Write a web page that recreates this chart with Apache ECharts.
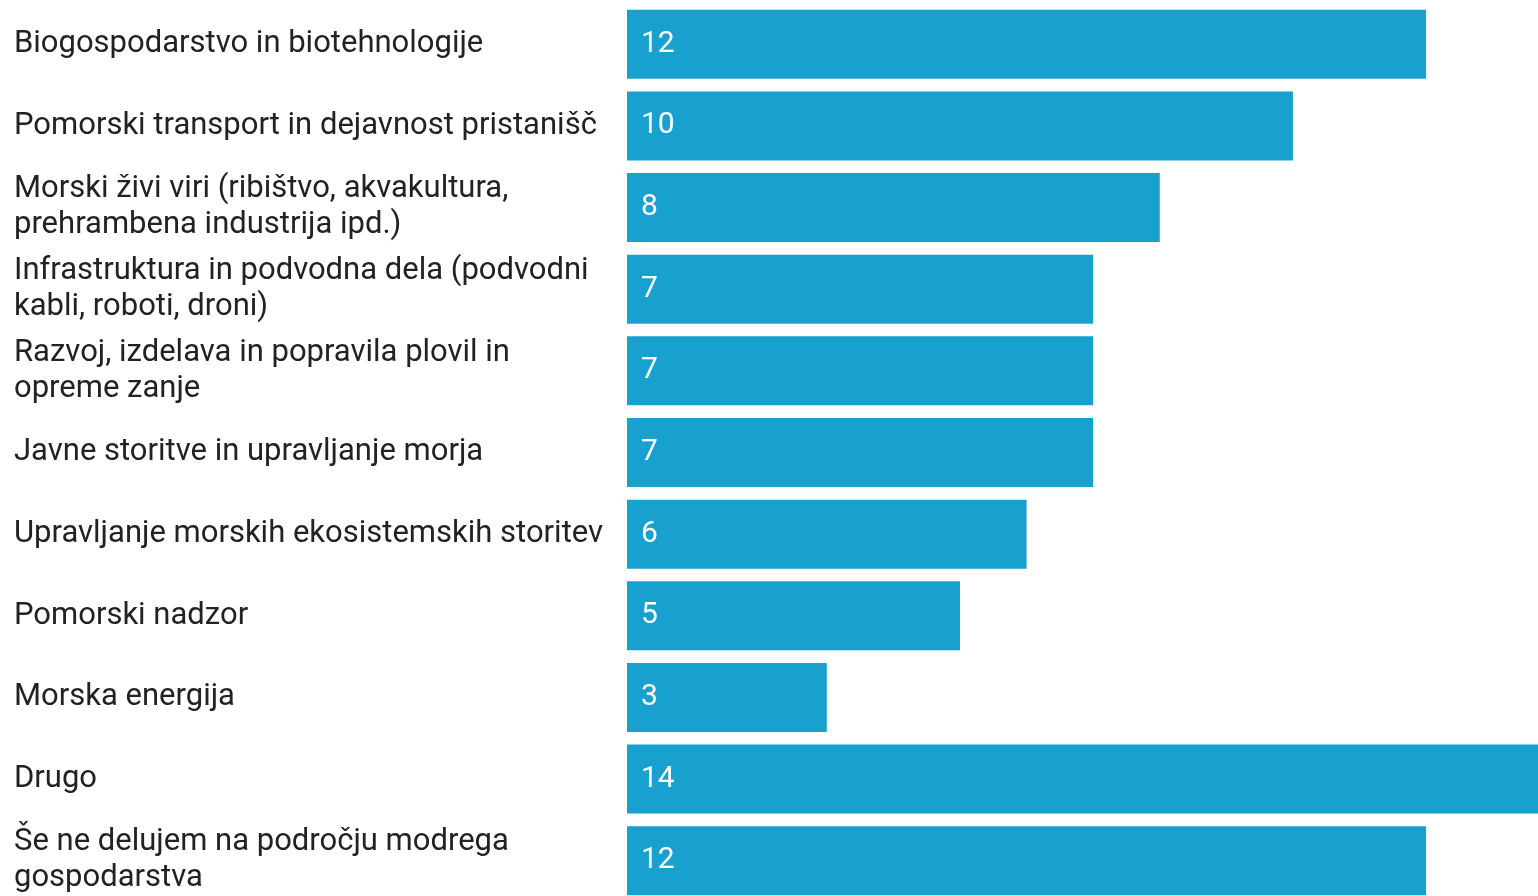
<!DOCTYPE html>
<html lang="sl">
<head>
    <meta charset="UTF-8">
    <title>Področja modrega gospodarstva</title>
    <script src="https://cdn.jsdelivr.net/npm/echarts@6/dist/echarts.min.js"></script>
    <style>
        html, body, #chart {
            width: 100%;
            height: 100%;
            margin: 0;
            padding: 0;
        }
        body {
            overflow: hidden;
            background: #fff;
        }
    </style>
</head>
<body>
    <div id="chart"></div>
    <script>
        // kategorije (od zgoraj navzdol)
        const categories = [
            'Biogospodarstvo in biotehnologije',
            'Pomorski transport in dejavnost pristanišč',
            'Morski živi viri (ribištvo, akvakultura,\nprehrambena industrija ipd.)',
            'Infrastruktura in podvodna dela (podvodni\nkabli, roboti, droni)',
            'Razvoj, izdelava in popravila plovil in\nopreme zanje',
            'Javne storitve in upravljanje morja',
            'Upravljanje morskih ekosistemskih storitev',
            'Pomorski nadzor',
            'Morska energija',
            'Drugo',
            'Še ne delujem na področju modrega\ngospodarstva'
        ];
        const values = [12, 10, 8, 7, 7, 7, 6, 5, 3, 14, 12];

        var chart = echarts.init(document.getElementById('chart'));

        var option = {
            animation: false,
            textStyle: { fontFamily: 'Roboto' },
            grid: {
                left: 627,
                right: 0,
                top: 3.5,
                height: 898,   // zadnja vrstica sega čez spodnji rob
                containLabel: false,
                outerBoundsMode: 'none'
            },
            xAxis: {
                type: 'value',
                min: 0,
                max: 13.68,   // zadnji stolpec (14) sega čez rob
                show: false
            },
            yAxis: {
                type: 'category',
                data: categories,
                inverse: true,
                axisLine: { show: false },
                axisTick: { show: false },
                axisLabel: {
                    align: 'left',
                    margin: 613,
                    color: '#222',
                    fontSize: 31,
                    lineHeight: 36,
                    fontFamily: 'Roboto'
                }
            },
            series: [
                {
                    type: 'bar',
                    data: values,
                    barWidth: 69,
                    clip: true,
                    itemStyle: { color: '#18a0cf' },
                    label: {
                        show: true,
                        position: 'insideLeft',
                        distance: 14,
                        color: '#fff',
                        fontSize: 30,
                        fontFamily: 'Roboto'
                    }
                }
            ]
        };

        chart.setOption(option);
        window.addEventListener('resize', function () {
            chart.resize();
        });
    </script>
</body>
</html>
